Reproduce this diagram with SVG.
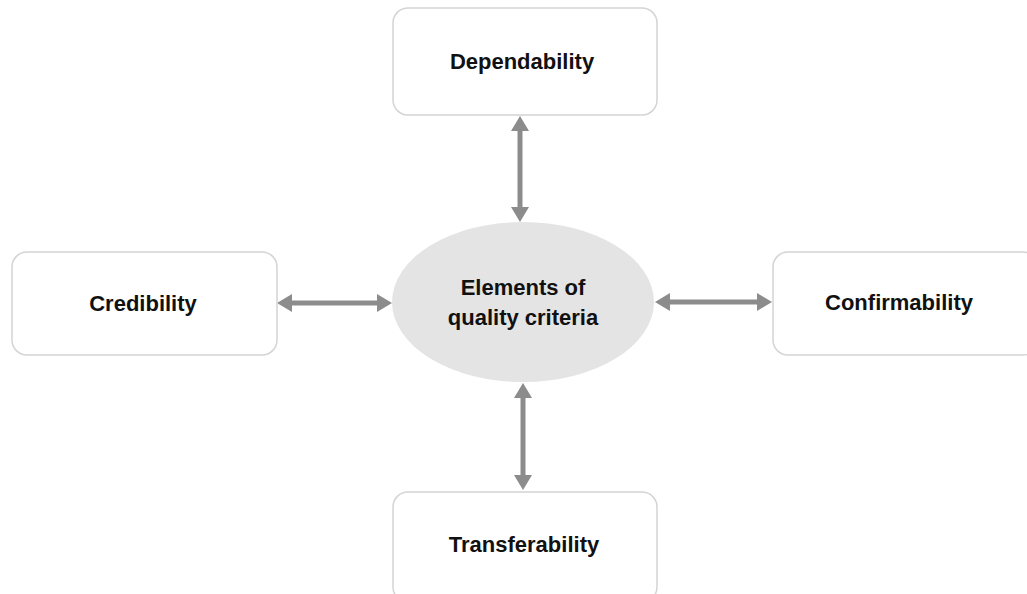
<svg xmlns="http://www.w3.org/2000/svg" width="1027" height="594" viewBox="0 0 1027 594">
  <style>
    .box { fill: #ffffff; stroke: #d4d4d4; stroke-width: 1.5; }
    .hub { fill: #e4e4e4; stroke: none; }
    .label { font-family: "Liberation Sans", Arial, sans-serif; font-weight: bold; font-size: 22px; fill: #111111; text-anchor: middle; }
    .link { stroke: #8c8c8c; stroke-width: 5; fill: none; marker-start: url(#head); marker-end: url(#head); }
  </style>
  <defs>
    <marker id="head" viewBox="0 0 15 18" markerWidth="15" markerHeight="18" refX="3" refY="9" orient="auto-start-reverse" markerUnits="userSpaceOnUse">
      <path d="M0,0 L15,9 L0,18 z" fill="#8c8c8c"/>
    </marker>
  </defs>
  <rect width="1027" height="594" fill="#ffffff"/>

  <!-- connectors: double-headed arrows between the hub and each element -->
  <g id="connectors">
    <line class="link" x1="520" y1="128" x2="520" y2="210"/>
    <line class="link" x1="289" y1="303" x2="380" y2="303"/>
    <line class="link" x1="667" y1="302" x2="760" y2="302"/>
    <line class="link" x1="523" y1="395" x2="523" y2="478"/>
  </g>

  <g id="hub">
    <ellipse class="hub" cx="523" cy="302" rx="131" ry="80"/>
    <text class="label" x="523" y="295">Elements of</text>
    <text class="label" x="523" y="325">quality criteria</text>
  </g>

  <g id="dependability">
    <rect class="box" x="393" y="8" width="264" height="107" rx="15"/>
    <text class="label" x="522" y="69">Dependability</text>
  </g>

  <g id="credibility">
    <rect class="box" x="12" y="252" width="265" height="103" rx="15"/>
    <text class="label" x="143" y="311">Credibility</text>
  </g>

  <g id="confirmability">
    <rect class="box" x="773" y="252" width="265" height="103" rx="15"/>
    <text class="label" x="899" y="310">Confirmability</text>
  </g>

  <g id="transferability">
    <rect class="box" x="393" y="492" width="264" height="110" rx="15"/>
    <text class="label" x="524" y="552">Transferability</text>
  </g>
</svg>
